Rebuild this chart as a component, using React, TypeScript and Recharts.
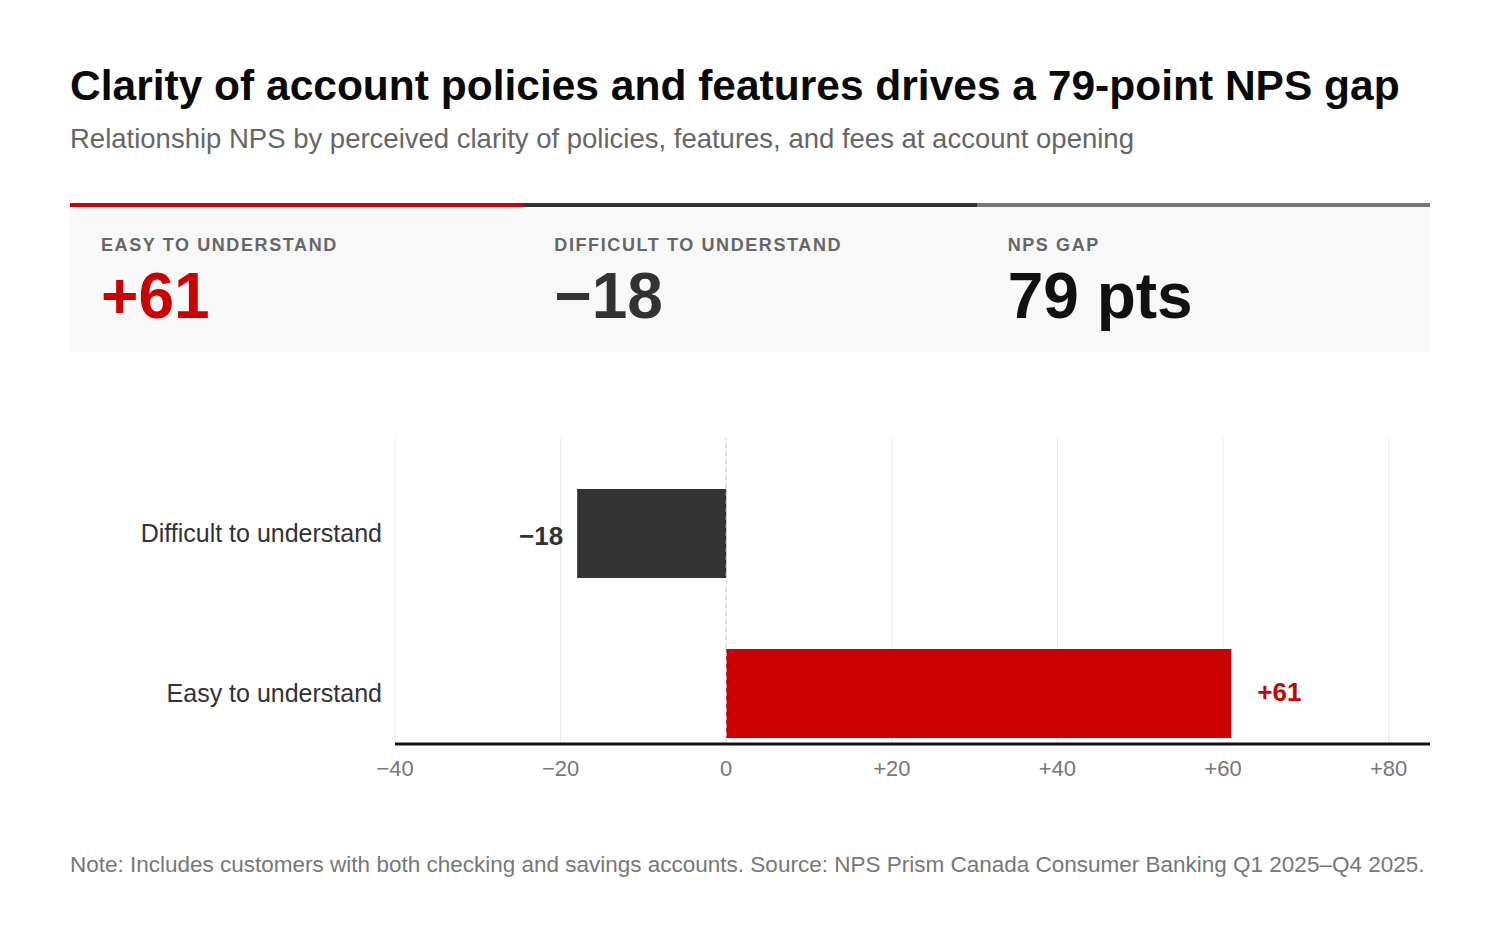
import React from "react";
import {
  BarChart,
  Bar,
  XAxis,
  YAxis,
  CartesianGrid,
  ReferenceLine,
  LabelList,
  Cell,
} from "recharts";

const categories = ["Difficult to understand", "Easy to understand"];
const npsValues = [-18, 61];
const barColors = ["#333333", "#cc0000"];
const xTicks = [-40, -20, 0, 20, 40, 60, 80];

const kpiLabels = ["EASY TO UNDERSTAND", "DIFFICULT TO UNDERSTAND", "NPS GAP"];
const kpiValues = ["+61", "\u221218", "79 pts"];
const kpiColors = ["#cc0000", "#333333", "#111111"];
const kpiBarColors = ["#cc0000", "#333333", "#777777"];

const chartData = categories.map((name, i) => ({ name, value: npsValues[i] }));

const FONT = '"Liberation Sans", Arial, Helvetica, sans-serif';

function fmtSigned(v: number) {
  if (v > 0) return "+" + v;
  if (v < 0) return "\u2212" + Math.abs(v);
  return "0";
}

function BarValueLabel(props: any) {
  const { x, y, width, height, value, index } = props;
  const left = Math.min(x, x + width);
  const right = Math.max(x, x + width);
  const cy = y + height / 2;
  const neg = value < 0;
  return (
    <text
      x={neg ? left - 14 : right + 26}
      y={cy + (neg ? 2 : -2)}
      dy="0.36em"
      textAnchor={neg ? "end" : "start"}
      fill={barColors[index]}
      fontSize={26}
      fontWeight={700}
      fontFamily={FONT}
    >
      {fmtSigned(value)}
    </text>
  );
}

export default function App() {
  return (
    <div
      style={{
        position: "absolute",
        left: 0,
        top: 0,
        width: 1500,
        height: 932,
        background: "#fff",
        fontFamily: FONT,
      }}
    >
      <div
        style={{
          position: "absolute",
          left: 70,
          top: 65,
          fontSize: 42.5,
          lineHeight: "42px",
          fontWeight: 700,
          color: "#0a0a0a",
          whiteSpace: "nowrap",
        }}
      >
        Clarity of account policies and features drives a 79-point NPS gap
      </div>
      <div
        style={{
          position: "absolute",
          left: 70,
          top: 125,
          fontSize: 27.5,
          lineHeight: "27px",
          color: "#666",
          whiteSpace: "nowrap",
        }}
      >
        Relationship NPS by perceived clarity of policies, features, and fees at account opening
      </div>

      {/* KPI strip */}
      <div
        style={{
          position: "absolute",
          left: 70,
          top: 203,
          width: 1360,
          height: 149,
          display: "flex",
        }}
      >
        {kpiLabels.map((label, i) => (
          <div
            key={label}
            style={{
              position: "relative",
              flex: 1,
              background: "#f8f8f8",
              borderTop: `4px solid ${kpiBarColors[i]}`,
            }}
          >
            <div
              style={{
                position: "absolute",
                left: 31,
                top: 29,
                fontSize: 18,
                lineHeight: "18px",
                fontWeight: 700,
                letterSpacing: 1.6,
                color: "#666",
                whiteSpace: "nowrap",
              }}
            >
              {label}
            </div>
            <div
              style={{
                position: "absolute",
                left: 31,
                top: 57,
                fontSize: 64,
                lineHeight: "64px",
                fontWeight: 700,
                color: kpiColors[i],
                whiteSpace: "nowrap",
              }}
            >
              {kpiValues[i]}
            </div>
          </div>
        ))}
      </div>

      {/* Bar chart */}
      <div style={{ position: "absolute", left: 0, top: 400 }}>
        <BarChart
          width={1500}
          height={420}
          data={chartData}
          layout="vertical"
          margin={{ top: 38, right: 70, bottom: 36, left: 0 }}
        >
          <CartesianGrid
            horizontal={false}
            syncWithTicks
            verticalValues={xTicks}
            stroke="#ebebeb"
            strokeWidth={1}
          />
          <XAxis
            type="number"
            domain={[-40, 85]}
            ticks={xTicks}
            allowDataOverflow
            tickFormatter={fmtSigned}
            tick={{ fontSize: 22, fill: "#777", fontFamily: FONT }}
            tickLine={false}
            tickSize={0}
            tickMargin={16}
            height={40}
            axisLine={{ stroke: "#111", strokeWidth: 3 }}
          />
          <YAxis
            type="category"
            dataKey="name"
            width={395}
            tickLine={false}
            axisLine={false}
            tickSize={0}
            tickMargin={13}
            padding={{ top: 15, bottom: -29 }}
            tick={{ fontSize: 25, fill: "#333", fontFamily: FONT }}
          />
          <ReferenceLine x={0} stroke="#cccccc" strokeDasharray="4 4" />
          <Bar dataKey="value" barSize={89} isAnimationActive={false}>
            {chartData.map((d, i) => (
              <Cell key={d.name} fill={barColors[i]} />
            ))}
            <LabelList dataKey="value" content={<BarValueLabel />} />
          </Bar>
        </BarChart>
      </div>

      <div
        style={{
          position: "absolute",
          left: 70,
          top: 854,
          fontSize: 22.5,
          lineHeight: "22px",
          color: "#777",
          whiteSpace: "nowrap",
        }}
      >
        Note: Includes customers with both checking and savings accounts. Source: NPS Prism Canada Consumer Banking Q1 2025–Q4 2025.
      </div>
    </div>
  );
}
